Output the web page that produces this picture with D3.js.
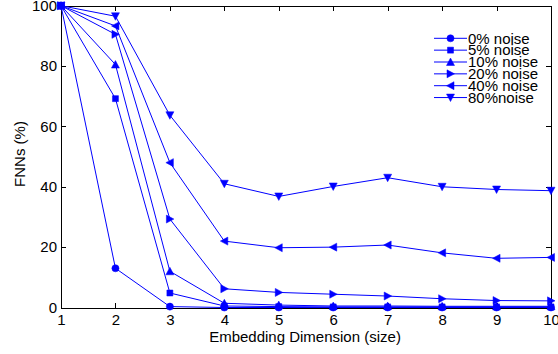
<!DOCTYPE html>
<html>
<head>
<meta charset="utf-8">
<script src="https://cdn.jsdelivr.net/npm/d3@7"></script>
<style>
  html, body { margin: 0; padding: 0; background: #fff; }
  svg { display: block; font-family: "Liberation Sans", Arial, Helvetica, sans-serif; }
  .axis path, .axis line { stroke: #000; shape-rendering: crispEdges; }
  .axis text { font-size: 15px; fill: #000; font-family: "Liberation Sans", Arial, Helvetica, sans-serif; }
</style>
</head>
<body>
<svg id="chart" width="558" height="354"></svg>
<script>
// Embedding dimension on the x axis
const dims = [1, 2, 3, 4, 5, 6, 7, 8, 9, 10];

// False nearest neighbours (%) per noise level
const noise0  = [100, 13.0, 0.3, 0.0, 0.0, 0.0, 0.0, 0.0, 0.0, 0.0];
const noise5  = [100, 69.2, 4.8, 0.5, 0.3, 0.2, 0.2, 0.2, 0.2, 0.2];
const noise10 = [100, 80.5, 12.0, 1.4, 0.8, 0.5, 0.5, 0.4, 0.4, 0.4];
const noise20 = [100, 90.5, 29.3, 6.2, 5.0, 4.4, 3.8, 2.9, 2.3, 2.2];
const noise40 = [100, 93.3, 48.0, 22.0, 19.8, 20.0, 20.7, 18.1, 16.3, 16.6];
const noise80 = [100, 96.5, 63.7, 41.0, 36.8, 40.1, 43.0, 40.0, 39.1, 38.7];

const seriesNames = ["0% noise", "5% noise", "10% noise", "20% noise", "40% noise", "80%noise"];
const seriesValues = [noise0, noise5, noise10, noise20, noise40, noise80];
const seriesMarkers = ["circle", "square", "up", "right", "left", "down"];

const xTicks = [1, 2, 3, 4, 5, 6, 7, 8, 9, 10];
const yTicks = [0, 20, 40, 60, 80, 100];

const svg = d3.select("#chart");
const plot = { left: 61, top: 5.7, right: 551, bottom: 307.5 };
const blue = "#0000ff";

const x = d3.scaleLinear().domain([1, 10]).range([plot.left, plot.right]);
const y = d3.scaleLinear().domain([0, 100]).range([plot.bottom, plot.top]);

// Marker shapes, centred on the data point
function markerPath(kind) {
  switch (kind) {
    case "circle": return d3.symbol().type(d3.symbolCircle).size(40)();
    case "square": return "M-3,-3L3,-3L3,3L-3,3Z";
    case "up":     return "M0,-4L4,3.5L-4,3.5Z";
    case "down":   return "M0,4L4,-3.5L-4,-3.5Z";
    case "right":  return "M4,0L-3.5,4L-3.5,-4Z";
    case "left":   return "M-4,0L3.5,4L3.5,-4Z";
  }
}

// Axes with inward ticks on all four sides
svg.append("g").attr("class", "axis")
  .attr("transform", `translate(0,${plot.bottom})`)
  .call(d3.axisBottom(x).tickValues(xTicks).tickSize(-5).tickPadding(7).tickSizeOuter(0));
svg.append("g").attr("class", "axis")
  .attr("transform", `translate(0,${plot.top})`)
  .call(d3.axisTop(x).tickValues(xTicks).tickSize(-5).tickFormat("").tickSizeOuter(0));
svg.append("g").attr("class", "axis")
  .attr("transform", `translate(${plot.left},0)`)
  .call(d3.axisLeft(y).tickValues(yTicks).tickSize(-5).tickPadding(4).tickSizeOuter(0));
svg.append("g").attr("class", "axis")
  .attr("transform", `translate(${plot.right},0)`)
  .call(d3.axisRight(y).tickValues(yTicks).tickSize(-5).tickFormat("").tickSizeOuter(0));

// Axis titles
svg.append("text")
  .attr("x", 305).attr("y", 342)
  .attr("text-anchor", "middle")
  .attr("font-size", 15)
  .text("Embedding Dimension (size)");
svg.append("text")
  .attr("transform", "translate(25,154) rotate(-90)")
  .attr("text-anchor", "middle")
  .attr("font-size", 15)
  .text("FNNs (%)");

// Series lines and markers
const line = d3.line().x((d, i) => x(dims[i])).y(d => y(d));

seriesValues.forEach((vals, s) => {
  const g = svg.append("g");
  g.append("path")
    .datum(vals)
    .attr("d", line)
    .attr("fill", "none")
    .attr("stroke", blue)
    .attr("stroke-width", 1);
  g.selectAll("path.mk")
    .data(vals)
    .join("path")
    .attr("class", "mk")
    .attr("d", markerPath(seriesMarkers[s]))
    .attr("transform", (d, i) => `translate(${x(dims[i])},${y(d)})`)
    .attr("fill", blue)
    .attr("stroke", blue)
    .attr("stroke-width", 0.5);
});

// Legend
const legend = svg.append("g");
seriesNames.forEach((name, s) => {
  const cy = 38.3 + s * 11.85;
  legend.append("line")
    .attr("x1", 434).attr("x2", 467)
    .attr("y1", cy).attr("y2", cy)
    .attr("stroke", blue).attr("stroke-width", 1);
  legend.append("path")
    .attr("d", markerPath(seriesMarkers[s]))
    .attr("transform", `translate(450.5,${cy})`)
    .attr("fill", blue).attr("stroke", blue).attr("stroke-width", 0.5);
  legend.append("text")
    .attr("x", 468).attr("y", cy + 5.2)
    .attr("font-size", 15)
    .text(name);
});
</script>
</body>
</html>
